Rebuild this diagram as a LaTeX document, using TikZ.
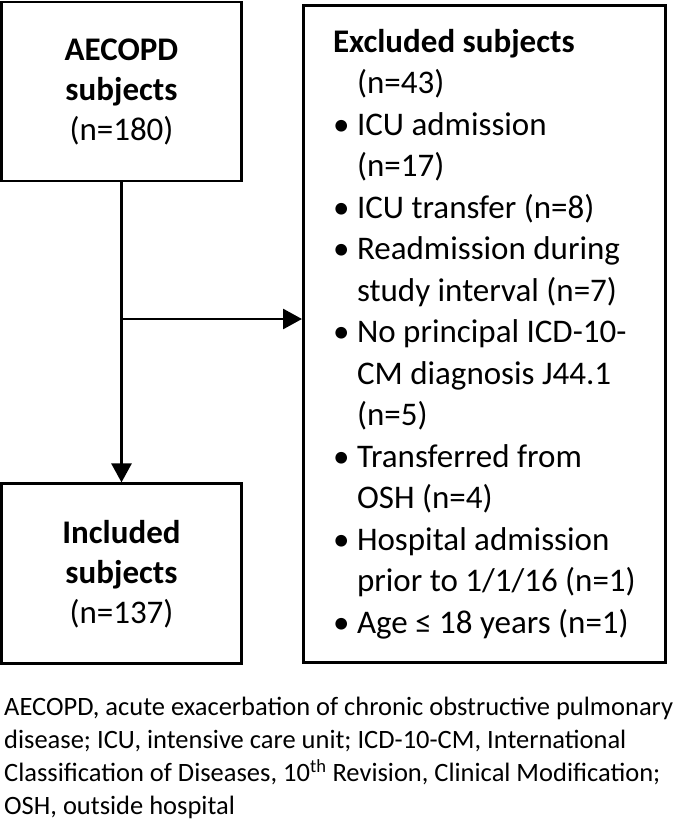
\documentclass[tikz,border=0pt]{standalone}
\usepackage{fontspec}
\setmainfont{Carlito}
\usetikzlibrary{arrows.meta, positioning}

\newcommand{\bul}{\makebox[24pt][l]{\textbullet}}
\newcommand{\cont}{\hspace*{24pt}}

\begin{document}
\begin{tikzpicture}[x=1pt, y=-1pt]
	% Define style
	\tikzset{
		box/.style={rectangle, draw=black, line width=2.8pt, minimum width=240pt, align=center, font=\fontsize{33}{40}\selectfont},
		exclbox/.style={rectangle, draw=black, line width=2.8pt, minimum width=362pt, minimum height=657pt, align=left, font=\fontsize{33}{41.5}\selectfont},
		arrow/.style={line width=2.8pt, -{Triangle[length=19pt, width=20pt]}}
	}
	\useasboundingbox (0,0) rectangle (685,824);

	% Define blocks
	\node (aecopd) [box, minimum height=179pt] at (121.5,91.5) {\textbf{AECOPD}\\ \textbf{subjects}\\ (n=180)};
	\node (incl) [box, minimum height=180pt, below=300pt of aecopd] {\textbf{Included}\\ \textbf{subjects}\\ (n=137)};
	\node (excl) [exclbox, anchor=north west] at (302,4) {\textbf{Excluded subjects}\\
		\cont(n=43)\\
		\bul ICU admission\\
		\cont(n=17)\\
		\bul ICU transfer (n=8)\\
		\bul Readmission during\\
		\cont study interval (n=7)\\
		\bul No principal ICD-10-\\
		\cont CM diagnosis J44.1\\
		\cont(n=5)\\
		\bul Transferred from\\
		\cont OSH (n=4)\\
		\bul Hospital admission\\
		\cont prior to 1/1/16 (n=1)\\
		\bul Age ≤ 18 years (n=1)};
	\node (note) [anchor=north west, inner sep=0pt, align=left, font=\fontsize{26.5}{33}\selectfont] at (4,697) {AECOPD, acute exacerbation of chronic obstructive pulmonary\\
		disease; ICU, intensive care unit; ICD-10-CM, International\\
		Classification of Diseases, 10\textsuperscript{th} Revision, Clinical Modification;\\
		OSH, outside hospital};

	% Define arrows
	\coordinate (branch) at (121.5,319);
	\draw [arrow] (aecopd) -- (incl);
	\draw [arrow] (branch) -- (branch -| excl.west);
\end{tikzpicture}
\end{document}
